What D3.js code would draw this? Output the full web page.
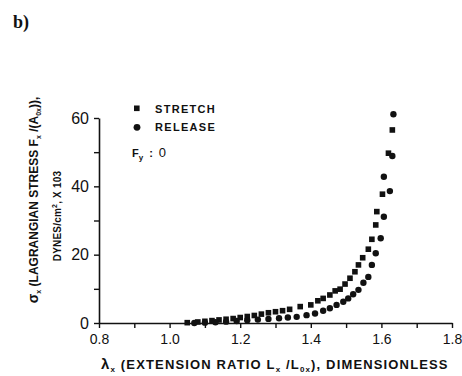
<!DOCTYPE html>
<html>
<head>
<meta charset="utf-8">
<script src="https://cdn.jsdelivr.net/npm/d3@7"></script>
<style>
  body { margin: 0; background: #fff; }
  text { font-family: "Liberation Sans", Arial, sans-serif; fill: #111; }
</style>
</head>
<body>
<div id="chart"></div>
<script>
// stretch (squares)
var stretchX = [1.05, 1.08, 1.10, 1.12, 1.14, 1.16, 1.18, 1.20, 1.22, 1.24, 1.26, 1.28, 1.30, 1.32, 1.34,
    1.37, 1.40, 1.42, 1.435, 1.454, 1.469, 1.483, 1.497, 1.511, 1.525, 1.535, 1.547, 1.563, 1.573,
    1.584, 1.587, 1.603, 1.620, 1.631];
var stretchY = [0.1, 0.3, 0.5, 0.7, 0.9, 1.1, 1.3, 1.6, 1.9, 2.2, 2.6, 3.0, 3.3, 3.6, 4.0,
    4.8, 5.3, 6.5, 7.2, 8.2, 9.4, 9.9, 11.4, 13.1, 15.0, 17.0, 19.1, 21.6, 24.5,
    28.7, 32.6, 37.7, 49.7, 56.5];
// release (circles)
var releaseX = [1.07, 1.10, 1.13, 1.16, 1.19, 1.22, 1.25, 1.28, 1.31, 1.335, 1.36, 1.388, 1.412, 1.435,
    1.454, 1.473, 1.492, 1.506, 1.520, 1.535, 1.549, 1.563, 1.573, 1.584, 1.598, 1.607, 1.624,
    1.607, 1.631, 1.634];
var releaseY = [0.0, 0.1, 0.2, 0.4, 0.6, 0.8, 1.0, 1.2, 1.4, 1.6, 1.8, 2.3, 2.8, 3.6,
    4.3, 5.3, 6.2, 7.2, 8.4, 9.7, 11.8, 13.5, 17.0, 20.4, 24.8, 31.1, 38.6,
    42.8, 48.9, 61.1];

var xTicks = [0.8, 0.9, 1.0, 1.1, 1.2, 1.3, 1.4, 1.5, 1.6, 1.7, 1.8];
var xTickLabels = ["0.8", "", "1.0", "", "1.2", "", "1.4", "", "1.6", "", "1.8"];
var yTicks = [0, 10, 20, 30, 40, 50, 60];
var yTickLabels = ["0", "", "20", "", "40", "", "60"];

var W = 462, H = 376;
var margin = {top: 118, right: 10, bottom: 53, left: 99};
var width = 452 - margin.left;
var height = 323 - margin.top;

var svg = d3.select("#chart").append("svg")
    .attr("width", W)
    .attr("height", H);

svg.append("text")
    .attr("x", 13).attr("y", 28)
    .style("font-family", "'Liberation Serif', 'Times New Roman', serif")
    .style("font-weight", "bold")
    .style("font-size", "18px")
    .text("b)");

var g = svg.append("g")
    .attr("transform", "translate(" + margin.left + "," + margin.top + ")");

var x = d3.scaleLinear().domain([0.8, 1.8]).range([0, width]);
var y = d3.scaleLinear().domain([0, 60]).range([height, 0]);

var xAxis = d3.axisBottom(x)
    .tickValues(xTicks)
    .tickSize(5)
    .tickSizeOuter(0)
    .tickPadding(6)
    .tickFormat(function (d, i) { return xTickLabels[i]; });

var yAxis = d3.axisLeft(y)
    .tickValues(yTicks)
    .tickSize(5)
    .tickSizeOuter(0)
    .tickPadding(5)
    .tickFormat(function (d, i) { return yTickLabels[i]; });

var gx = g.append("g")
    .attr("transform", "translate(0," + height + ")")
    .call(xAxis);
gx.select(".domain").attr("stroke", "#111").attr("stroke-width", 1.6);
gx.selectAll(".tick line").attr("stroke", "#111").attr("stroke-width", 1.4);
gx.selectAll(".tick text")
    .style("font-size", "14px")
    .style("font-family", "'Liberation Sans', Arial, sans-serif")
    .attr("fill", "#111");

var gy = g.append("g").call(yAxis);
gy.select(".domain").attr("stroke", "#111").attr("stroke-width", 1.6);
gy.selectAll(".tick line").attr("stroke", "#111").attr("stroke-width", 1.4);
gy.selectAll(".tick text")
    .style("font-size", "16px")
    .style("font-family", "'Liberation Sans', Arial, sans-serif")
    .attr("fill", "#111");

// points
var stretch = stretchX.map(function (d, i) { return {x: d, y: stretchY[i]}; });
var release = releaseX.map(function (d, i) { return {x: d, y: releaseY[i]}; });

g.selectAll(".sq")
    .data(stretch)
    .enter().append("rect")
    .attr("class", "sq")
    .attr("x", function (d) { return x(d.x) - 2.8; })
    .attr("y", function (d) { return y(d.y) - 2.8; })
    .attr("width", 5.6)
    .attr("height", 5.6)
    .attr("fill", "#111");

g.selectAll(".ci")
    .data(release)
    .enter().append("circle")
    .attr("class", "ci")
    .attr("cx", function (d) { return x(d.x); })
    .attr("cy", function (d) { return y(d.y); })
    .attr("r", 3.2)
    .attr("fill", "#111");

// legend
svg.append("rect")
    .attr("x", 134).attr("y", 105.5).attr("width", 5.6).attr("height", 5.6)
    .attr("fill", "#111");
svg.append("text")
    .attr("x", 155).attr("y", 112.5)
    .style("font-size", "11px")
    .style("font-weight", "bold")
    .style("letter-spacing", "1.3px")
    .text("STRETCH");
svg.append("circle")
    .attr("cx", 137).attr("cy", 127.3).attr("r", 3.4)
    .attr("fill", "#111");
svg.append("text")
    .attr("x", 155).attr("y", 131)
    .style("font-size", "11px")
    .style("font-weight", "bold")
    .style("letter-spacing", "1.3px")
    .text("RELEASE");
var fy = svg.append("text")
    .attr("x", 132).attr("y", 157)
    .style("font-size", "11px")
    .style("font-weight", "bold");
fy.append("tspan").text("F");
fy.append("tspan").attr("dy", 3).style("font-size", "8px").text("y");
fy.append("tspan").attr("dy", -3).attr("dx", 6).text(":");
fy.append("tspan").attr("dx", 6).style("font-size", "13px").style("font-weight", "normal").text("0");

// y label, two lines
var yl1 = svg.append("text")
    .attr("transform", "translate(38,200) rotate(-90)")
    .attr("text-anchor", "middle")
    .style("font-size", "12px")
    .style("font-weight", "bold")
    .style("letter-spacing", "0px");
yl1.append("tspan").style("font-size", "14px").text("σ");
yl1.append("tspan").attr("dy", 3).style("font-size", "7px").text("x");
yl1.append("tspan").attr("dy", -3).text(" (LAGRANGIAN STRESS F");
yl1.append("tspan").attr("dy", 3).style("font-size", "7px").text("x");
yl1.append("tspan").attr("dy", -3).text(" /(A");
yl1.append("tspan").attr("dy", 3).style("font-size", "7px").text("0x");
yl1.append("tspan").attr("dy", -3).text(")),");

var yl2 = svg.append("text")
    .attr("transform", "translate(61,216) rotate(-90)")
    .attr("text-anchor", "middle")
    .style("font-size", "10px")
    .style("font-weight", "bold")
    .style("letter-spacing", "0.2px");
yl2.append("tspan").text("DYNES/cm");
yl2.append("tspan").attr("dy", -4).style("font-size", "7px").text("2");
yl2.append("tspan").attr("dy", 4).text(", X 103");

// x label
var xl = svg.append("text")
    .attr("x", 101).attr("y", 369)
    .style("font-size", "13px")
    .style("font-weight", "bold")
    .style("letter-spacing", "1.15px");
xl.append("tspan").style("font-size", "15px").text("λ");
xl.append("tspan").attr("dy", 3).style("font-size", "8px").text("x");
xl.append("tspan").attr("dy", -3).text(" (EXTENSION  RATIO  L");
xl.append("tspan").attr("dy", 3).style("font-size", "8px").text("x");
xl.append("tspan").attr("dy", -3).text(" /L");
xl.append("tspan").attr("dy", 3).style("font-size", "8px").text("0x");
xl.append("tspan").attr("dy", -3).text("),  DIMENSIONLESS");
</script>
</body>
</html>
